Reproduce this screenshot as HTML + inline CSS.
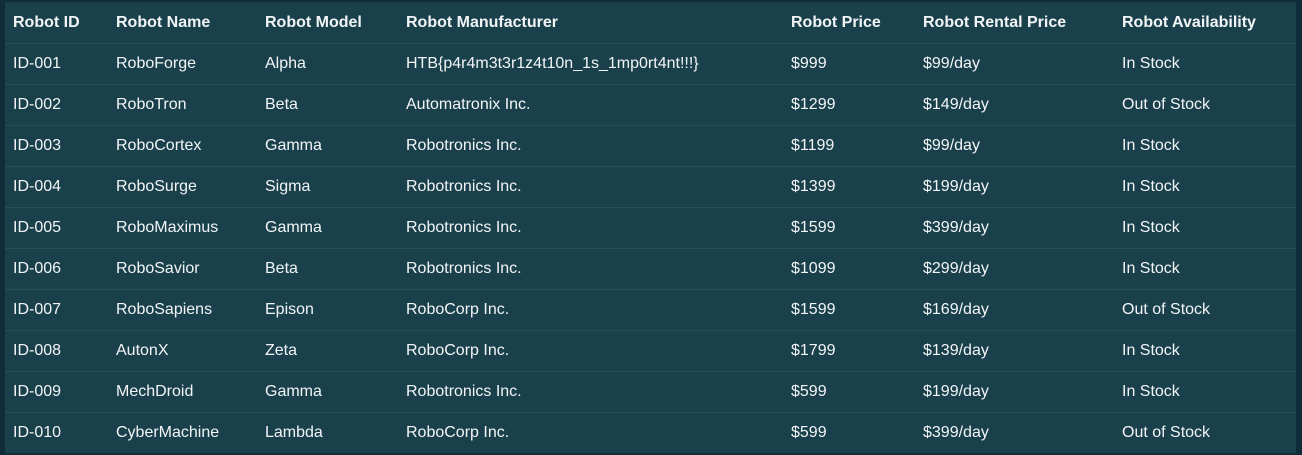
<!DOCTYPE html>
<html><head><meta charset="utf-8"><style>
html,body{margin:0;padding:0;width:1302px;height:455px;background:#0f2d38;overflow:hidden}
table{position:absolute;left:5px;top:2px;width:1291px;border-collapse:collapse;background:#1a404b;font-family:"Liberation Sans",sans-serif;font-size:16px;color:#f2f5f6;table-layout:fixed}
th,td{height:40px;padding:0 0 0 8px;text-align:left;border-bottom:1px solid #24505b;white-space:nowrap}
th{font-weight:bold;height:41px}
tr:last-child td{border-bottom:none}
</style></head><body>
<table>
<colgroup><col style="width:103px"><col style="width:149px"><col style="width:141px"><col style="width:385px"><col style="width:132px"><col style="width:199px"><col></colgroup>
<thead><tr>
<th>Robot ID</th>
<th>Robot Name</th>
<th>Robot Model</th>
<th>Robot Manufacturer</th>
<th>Robot Price</th>
<th>Robot Rental Price</th>
<th>Robot Availability</th>
</tr></thead>
<tbody>
<tr><td>ID-001</td><td>RoboForge</td><td>Alpha</td><td>HTB{p4r4m3t3r1z4t10n_1s_1mp0rt4nt!!!}</td><td>$999</td><td>$99/day</td><td>In Stock</td></tr>
<tr><td>ID-002</td><td>RoboTron</td><td>Beta</td><td>Automatronix Inc.</td><td>$1299</td><td>$149/day</td><td>Out of Stock</td></tr>
<tr><td>ID-003</td><td>RoboCortex</td><td>Gamma</td><td>Robotronics Inc.</td><td>$1199</td><td>$99/day</td><td>In Stock</td></tr>
<tr><td>ID-004</td><td>RoboSurge</td><td>Sigma</td><td>Robotronics Inc.</td><td>$1399</td><td>$199/day</td><td>In Stock</td></tr>
<tr><td>ID-005</td><td>RoboMaximus</td><td>Gamma</td><td>Robotronics Inc.</td><td>$1599</td><td>$399/day</td><td>In Stock</td></tr>
<tr><td>ID-006</td><td>RoboSavior</td><td>Beta</td><td>Robotronics Inc.</td><td>$1099</td><td>$299/day</td><td>In Stock</td></tr>
<tr><td>ID-007</td><td>RoboSapiens</td><td>Epison</td><td>RoboCorp Inc.</td><td>$1599</td><td>$169/day</td><td>Out of Stock</td></tr>
<tr><td>ID-008</td><td>AutonX</td><td>Zeta</td><td>RoboCorp Inc.</td><td>$1799</td><td>$139/day</td><td>In Stock</td></tr>
<tr><td>ID-009</td><td>MechDroid</td><td>Gamma</td><td>Robotronics Inc.</td><td>$599</td><td>$199/day</td><td>In Stock</td></tr>
<tr><td>ID-010</td><td>CyberMachine</td><td>Lambda</td><td>RoboCorp Inc.</td><td>$599</td><td>$399/day</td><td>Out of Stock</td></tr>
</tbody></table>
</body></html>
